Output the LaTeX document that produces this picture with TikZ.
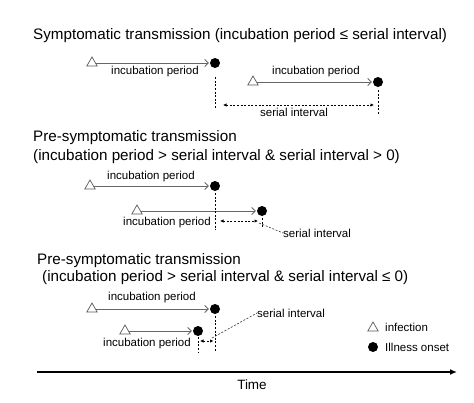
\documentclass[tikz,border=0pt]{standalone}
\usepackage{fontspec}
\setmainfont{Liberation Sans}
\usetikzlibrary{arrows.meta,shapes.geometric}
\begin{document}
\begin{tikzpicture}[x=1pt,y=-1pt,
  ttl/.style={font=\fontsize{15.2}{18}\selectfont, anchor=west, inner sep=0},
  lbl/.style={font=\fontsize{11.5}{13}\selectfont, inner sep=0},
  inf/.style={regular polygon, regular polygon sides=3, draw=black!65, line width=0.7pt, minimum size=12pt, inner sep=0},
  ons/.style={circle, fill=black, minimum size=10pt, inner sep=0},
  inc/.style={draw=black!60, line width=0.8pt, -{Straight Barb[length=3.5pt,width=7pt]}, shorten >=1pt},
  vdash/.style={line width=0.7pt, dash pattern=on 2pt off 1.6pt},
  darrow/.style={vdash, {Latex[length=3.5pt,width=3.5pt]}-{Latex[length=3.5pt,width=3.5pt]}},
  lead/.style={line width=0.6pt, dash pattern=on 2pt off 1.6pt, draw=black!80}
]
\path[use as bounding box] (0,0) rectangle (474,402);

% ---- Section 1
\node[ttl] (h1) at (33,36) {Symptomatic transmission (incubation period ≤ serial interval)};
\node[inf] (i1) at (92,63) {};
\node[ons] (o1) at (215,63) {};
\draw[inc] (i1) -- (o1);
\node[lbl] (l1) at (155,72) {incubation period};
\node[inf] (i2) at (253,82) {};
\node[ons] (o2) at (378,82) {};
\draw[inc] (i2) -- (o2);
\node[lbl] (l2) at (316,72) {incubation period};
\coordinate (b1) at (215,108);
\coordinate (b2) at (378,115);
\draw[vdash, shorten <=9pt] (o1.south) -- (b1);
\draw[vdash, shorten <=3pt] (o2.south) -- (b2);
\coordinate (s1a) at (215,105);
\coordinate (s1b) at (378,105);
\draw[darrow, shorten <=8pt, shorten >=4pt] (s1a) -- (s1b);
\node[lbl] (sl1) at (294,112) {serial interval};

% ---- Section 2
\node[ttl] (h2) at (33,138) {Pre-symptomatic transmission};
\node[ttl] (h2b) at (33,157) {(incubation period > serial interval \& serial interval > 0)};
\node[inf] (i3) at (90,186) {};
\node[ons] (o3) at (215,186) {};
\draw[inc] (i3) -- (o3);
\node[lbl] (l3) at (151,177) {incubation period};
\node[inf] (i4) at (137,211) {};
\node[ons] (o4) at (262,211) {};
\draw[inc] (i4) -- (o4);
\node[lbl] (l4) at (167,223) {incubation period};
\coordinate (b3) at (215,230);
\coordinate (b4) at (262,228);
\draw[vdash, shorten <=2pt] (o3.south) -- (b3);
\draw[vdash, shorten <=2pt] (o4.south) -- (b4);
\coordinate (s2a) at (215,221);
\coordinate (s2b) at (262,221);
\draw[darrow, shorten <=5pt, shorten >=4pt] (s2a) -- (s2b);
\node[lbl, anchor=west] (sl2) at (283,233) {serial interval};
\coordinate (q2) at (259,223);
\draw[lead] (q2) -- (sl2.west);

% ---- Section 3
\node[ttl] (h3) at (37,261) {Pre-symptomatic transmission};
\node[ttl] (h3b) at (42,278) {(incubation period > serial interval \& serial interval ≤ 0)};
\node[inf] (i5) at (92,309) {};
\node[ons] (o5) at (215,309) {};
\draw[inc] (i5) -- (o5);
\node[lbl] (l5) at (152,298) {incubation period};
\node[inf] (i6) at (125,331) {};
\node[ons] (o6) at (198,331) {};
\draw[inc] (i6) -- (o6);
\node[lbl] (l6) at (147,344) {incubation period};
\coordinate (b5) at (215,352);
\coordinate (b6) at (198,352);
\draw[vdash, shorten <=2pt] (o5.south) -- (b5);
\draw[vdash, shorten <=1pt] (o6.south) -- (b6);
\coordinate (s3a) at (198,341);
\coordinate (s3b) at (215,341);
\draw[darrow, shorten <=2pt, shorten >=1.5pt] (s3a) -- (s3b);
\node[lbl, anchor=west] (sl3) at (257,313) {serial interval};
\coordinate (q3) at (212,338);
\draw[lead] (q3) -- (sl3.west);

% ---- Legend
\node[inf] (gi) at (373,328) {};
\node[lbl, anchor=west] (gil) at (385,327) {infection};
\node[ons] (go) at (373,347) {};
\node[lbl, anchor=west] (gol) at (385,347) {Illness onset};

% ---- Time axis
\coordinate (t0) at (37,372);
\coordinate (t1) at (457,372);
\draw[line width=1.6pt, -{Latex[length=7pt,width=6pt]}] (t0) -- (t1);
\node[font=\fontsize{13.5}{16}\selectfont, inner sep=0] (tl) at (252,385) {Time};
\end{tikzpicture}
\end{document}
